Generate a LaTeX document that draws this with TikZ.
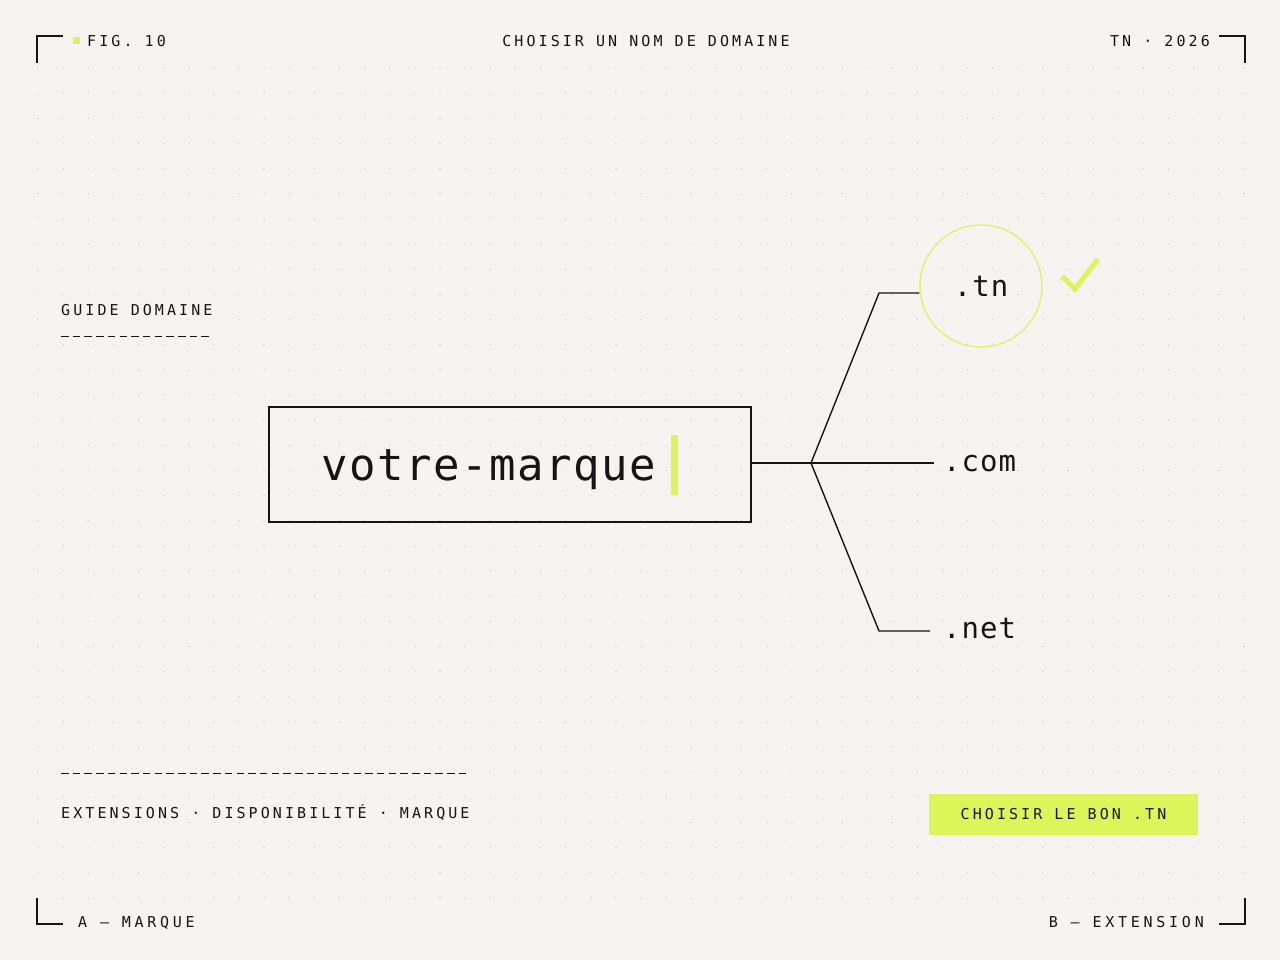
\documentclass[tikz,border=0pt]{standalone}
\usepackage{fontspec}
\usepackage{tikz}
\newfontfamily\labelfont{DejaVu Sans Mono}[LetterSpace=20.5]
\newfontfamily\footfont{DejaVu Sans Mono}[LetterSpace=25]
\newfontfamily\domainfont{DejaVu Sans Mono}[LetterSpace=3.5]
\definecolor{paper}{HTML}{F5F4F0}
\definecolor{ink}{HTML}{151515}
\definecolor{lime}{HTML}{DCF65A}
\definecolor{limeline}{HTML}{DDF474}
\definecolor{dotgrey}{HTML}{DDDBD5}

\begin{document}
\begin{tikzpicture}[x=1pt,y=-1pt,
    small/.style={inner sep=0pt, text=ink, font=\labelfont\fontsize{15}{17}\selectfont},
    foot/.style={inner sep=0pt, text=ink, font=\footfont\fontsize{15}{17}\selectfont},
    tld/.style={inner sep=0pt, text=ink, font=\domainfont\fontsize{29}{32}\selectfont},
    wire/.style={ink, line width=1.4pt},
    corner/.style={ink, line width=1.8pt},
    rule/.style={ink, line width=1pt, dash pattern=on 7.5pt off 4.2pt}]
    \useasboundingbox (0,0) rectangle (1280,960);
    \fill [paper] (0,0) rectangle (1280,960);
    \foreach \i in {0,...,48}
      \foreach \j in {0,...,33}
        \fill [dotgrey] ({38+25.125*\i},{68+25.15*\j}) circle (0.8);
    \draw [corner] (37,63) -- (37,36) -- (63,36);
    \draw [corner] (1219,36) -- (1245,36) -- (1245,63);
    \draw [corner] (37,898) -- (37,924) -- (63,924);
    \draw [corner] (1219,924) -- (1245,924) -- (1245,898);
    \node [fill=lime, inner sep=0pt, minimum size=7pt] (fignote) at (76.5,40.5) {};
    \node [small, anchor=base west] (fig) at (87,46.5) {FIG. 10};
    \node [small, anchor=base] (title) at (646,46.5) {CHOISIR UN NOM DE DOMAINE};
    \node [small, anchor=base east] (year) at (1210,46.5) {TN · 2026};
    \node [small, anchor=base west] (guide) at (61,315.5) {GUIDE DOMAINE};
    \draw [rule] (61,336) -- (211,336);
    \draw [rule] (61,773) -- (469,773);
    \node [small, anchor=base west] (tags) at (61,818.5) {EXTENSIONS · DISPONIBILITÉ · MARQUE};
    \node [foot, anchor=base west] (sidea) at (78,927.5) {A – MARQUE};
    \node [foot, anchor=base east] (sideb) at (1204,927.5) {B – EXTENSION};
    \node [small, fill=lime, minimum width=269pt, minimum height=41pt] (cta) at (1063.5,814.5) {CHOISIR LE BON .TN};
    \node [draw=ink, line width=1.6pt, minimum width=482pt, minimum height=115pt, inner sep=0pt] (box) at (510,464.5) {};
    \node [inner sep=0pt, anchor=base west, text=ink, font=\domainfont\fontsize{44}{48}\selectfont] (brand) at (321,480) {votre-marque};
    \node [fill=lime, inner sep=0pt, minimum width=7pt, minimum height=60pt] (cursor) at (674.5,465) {};
    \coordinate (fork) at (811,463);
    \coordinate (tnbend) at (879,293);
    \coordinate (netbend) at (879,631);
    \node [tld, circle, draw=limeline, line width=1.5pt, minimum size=122pt] (tn) at (981,286) {.tn};
    \node [tld, anchor=base west] (com) at (943,471) {.com};
    \node [tld, anchor=base west] (net) at (943,638) {.net};
    \coordinate (comend) at ([xshift=-9pt]com.west);
    \coordinate (netend) at ([xshift=-13pt]net.west);
    \draw [wire] (box.east |- fork) -- (fork);
    \draw [wire] (fork) -- (tnbend) -- (tnbend -| tn.west);
    \draw [wire] (fork) -- (fork -| comend);
    \draw [wire] (fork) -- (netbend) -- (netbend -| netend);
    \draw [lime, line width=5pt] (1062,276) -- (1075,289) -- (1098,259);
\end{tikzpicture}
\end{document}
